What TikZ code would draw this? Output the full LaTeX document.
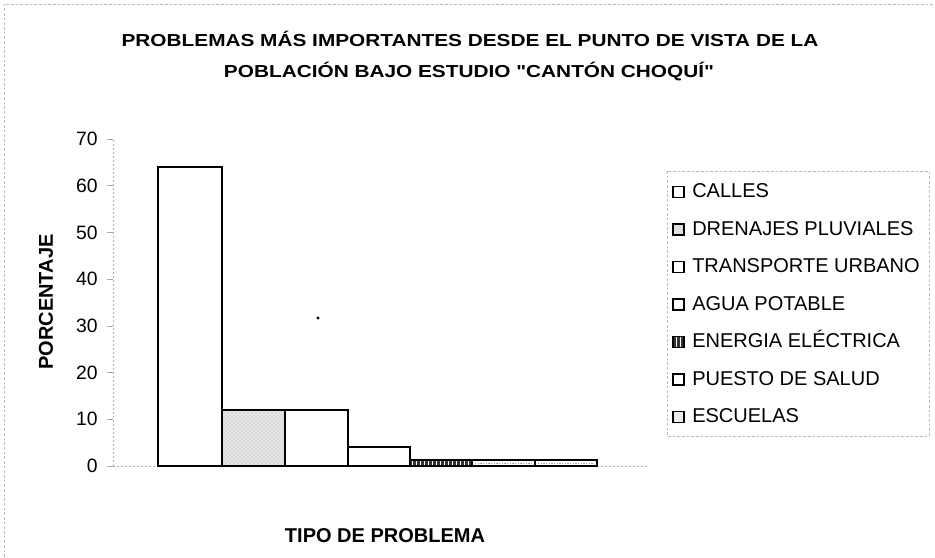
\documentclass[tikz,border=0pt]{standalone}
\usepackage{fontspec}
\setmainfont{Liberation Sans}[Ligatures=TeXOff]
\usetikzlibrary{patterns}
\tikzset{
  frameline/.style={gray!55, dash pattern=on 2pt off 1.5pt, line width=0.5pt},
  axisline/.style={gray!60, dash pattern=on 1.5pt off 1.5pt, line width=0.5pt},
  barbox/.style={draw=black, line width=1.1pt},
  legsq/.style={draw=black, line width=0.8pt},
  titletext/.style={font=\bfseries\fontsize{13}{15}\selectfont, xscale=1.2},
  axtitle/.style={font=\bfseries\fontsize{15}{17}\selectfont},
  ticklab/.style={font=\fontsize{14.5}{16}\selectfont, anchor=east, inner sep=0pt},
  legtext/.style={font=\fontsize{15}{17}\selectfont, anchor=base west, inner sep=0pt},
}
\begin{document}
\begin{tikzpicture}[x=0.75pt,y=-0.75pt]
\useasboundingbox (0,0) rectangle (935,557);
% outer faint frame
\draw[frameline] (4,557) -- (4,4) -- (935,4);
% title
\node[titletext] (t1) at (470,39) {PROBLEMAS MÁS IMPORTANTES DESDE EL PUNTO DE VISTA DE LA};
\node[titletext] (t2) at (469,72) {POBLACIÓN BAJO ESTUDIO "CANTÓN CHOQUÍ"};
% axes
\draw[axisline] (113,466) -- (113,140);
\draw[axisline] (113,466) -- (648,466);
\foreach \v [count=\i from 0] in {0,10,20,30,40,50,60,70} {
  \draw[gray!70, line width=0.5pt] (107,466-\i*46.7) -- (113,466-\i*46.7);
  \node[ticklab] (tk\i) at (98,466-\i*46.7) {\v};
}
\node[axtitle, rotate=90] (ylab) at (46,302) {PORCENTAJE};
\node[axtitle] (xlab) at (385,536) {TIPO DE PROBLEMA};
% bars
\draw[barbox, fill=white] (158,466) rectangle (222,167);
\fill[gray!18] (222,466) rectangle (285,410);
\fill[pattern=crosshatch dots, pattern color=gray!70] (222,466) rectangle (285,410);
\draw[barbox] (222,466) rectangle (285,410);
\draw[barbox, fill=white] (285,466) rectangle (348,410);
\draw[barbox, fill=white] (348,466) rectangle (410,447);
\fill[black!80] (410,466) rectangle (472,460);
\fill[pattern=vertical lines, pattern color=white] (410,466) rectangle (472,460);
\draw[barbox] (410,466) rectangle (472,460);
\draw[barbox, fill=white] (472,466) rectangle (535,460);
\draw[gray!70, dash pattern=on 1pt off 1pt, line width=0.6pt] (475,463) -- (532,463);
\draw[barbox, fill=white] (535,466) rectangle (597,460);
\draw[gray!70, dash pattern=on 1pt off 1pt, line width=0.6pt] (538,463) -- (594,463);
% stray dot
\fill[black] (318,318) circle (1.6);
% legend
\draw[frameline] (667,171) rectangle (929,436);
\foreach \name/\sty [count=\i from 0] in {CALLES/0,DRENAJES PLUVIALES/1,TRANSPORTE URBANO/0,AGUA POTABLE/0,ENERGIA ELÉCTRICA/2,PUESTO DE SALUD/0,ESCUELAS/3} {
  \pgfmathsetmacro{\yy}{190.5+\i*37.5}
  \ifcase\sty
    \draw[legsq, fill=white] (673,\yy-4) rectangle (684,\yy+7);
  \or
    \fill[gray!25] (673,\yy-4) rectangle (684,\yy+7);
    \draw[legsq] (673,\yy-4) rectangle (684,\yy+7);
  \or
    \fill[black!80] (673,\yy-4) rectangle (684,\yy+7);
    \fill[pattern=vertical lines, pattern color=white] (673,\yy-4) rectangle (684,\yy+7);
    \draw[legsq] (673,\yy-4) rectangle (684,\yy+7);
  \or
    \fill[gray!15] (673,\yy-4) rectangle (684,\yy+7);
    \draw[legsq] (673,\yy-4) rectangle (684,\yy+7);
  \fi
  \node[legtext] (lg\i) at (692,\yy+7) {\name};
}
\end{tikzpicture}
\end{document}
